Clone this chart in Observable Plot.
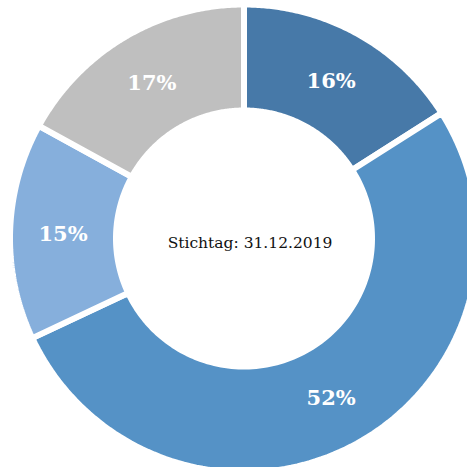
<!DOCTYPE html>
<html>
<head>
<meta charset="utf-8">
<script src="https://cdn.jsdelivr.net/npm/d3@7"></script>
<script src="https://cdn.jsdelivr.net/npm/@observablehq/plot@0.6"></script>
<style>
  html, body { margin: 0; padding: 0; background: #fff; }
  svg { display: block; }
</style>
</head>
<body>
<div id="chart"></div>
<script>
// Data
const categories = ["A", "B", "C", "D"];
const shares = [16, 52, 15, 17];
const labels = ["16%", "52%", "15%", "17%"];
const colors = ["#4779a8", "#5592c6", "#86afdc", "#bfbfbf"];
const centerText = "Stichtag: 31.12.2019";

// Layout
const W = 467, H = 467;
const cx = 243.5, cy = 238;
const R = 234, r = 128, gap = 6;

const pie = d3.pie().sort(null).value((d, i) => shares[i])(categories);

const pts = [];
const labs = [];
pie.forEach((p, i) => {
  const a0 = p.startAngle, a1 = p.endAngle;
  const n = 120;
  const ring = [];
  for (let k = 0; k <= n; k++) {
    const a = a0 + (a1 - a0) * k / n;
    ring.push({x: R * Math.sin(a), y: R * Math.cos(a)});
  }
  for (let k = n; k >= 0; k--) {
    const a = a0 + (a1 - a0) * k / n;
    ring.push({x: r * Math.sin(a), y: r * Math.cos(a)});
  }
  ring.push(ring[0]);
  ring.forEach(q => pts.push({...q, cat: categories[i]}));
  const am = (a0 + a1) / 2, rm = (R + r) / 2;
  labs.push({x: rm * Math.sin(am), y: rm * Math.cos(am), label: labels[i]});
});

const chart = Plot.plot({
  width: W,
  height: H,
  margin: 0,
  x: {domain: [-cx, W - cx], axis: null},
  y: {domain: [cy - H, cy], axis: null},
  color: {domain: categories, range: colors},
  style: {background: "#fff"},
  marks: [
    Plot.line(pts, {x: "x", y: "y", z: "cat", fill: "cat", stroke: "#fff", strokeWidth: gap, strokeLinejoin: "miter", curve: "linear"}),
    Plot.text(labs, {x: "x", y: "y", text: "label", fill: "#fff", fontWeight: "bold", fontSize: 21, fontFamily: "DejaVu Serif", dy: 1}),
    Plot.text([centerText], {x: () => 0, y: () => 0, text: d => d, fill: "#111", fontSize: 15.5, fontFamily: "DejaVu Serif", dx: 6, dy: 5})
  ]
});
document.getElementById("chart").append(chart);
</script>
</body>
</html>
